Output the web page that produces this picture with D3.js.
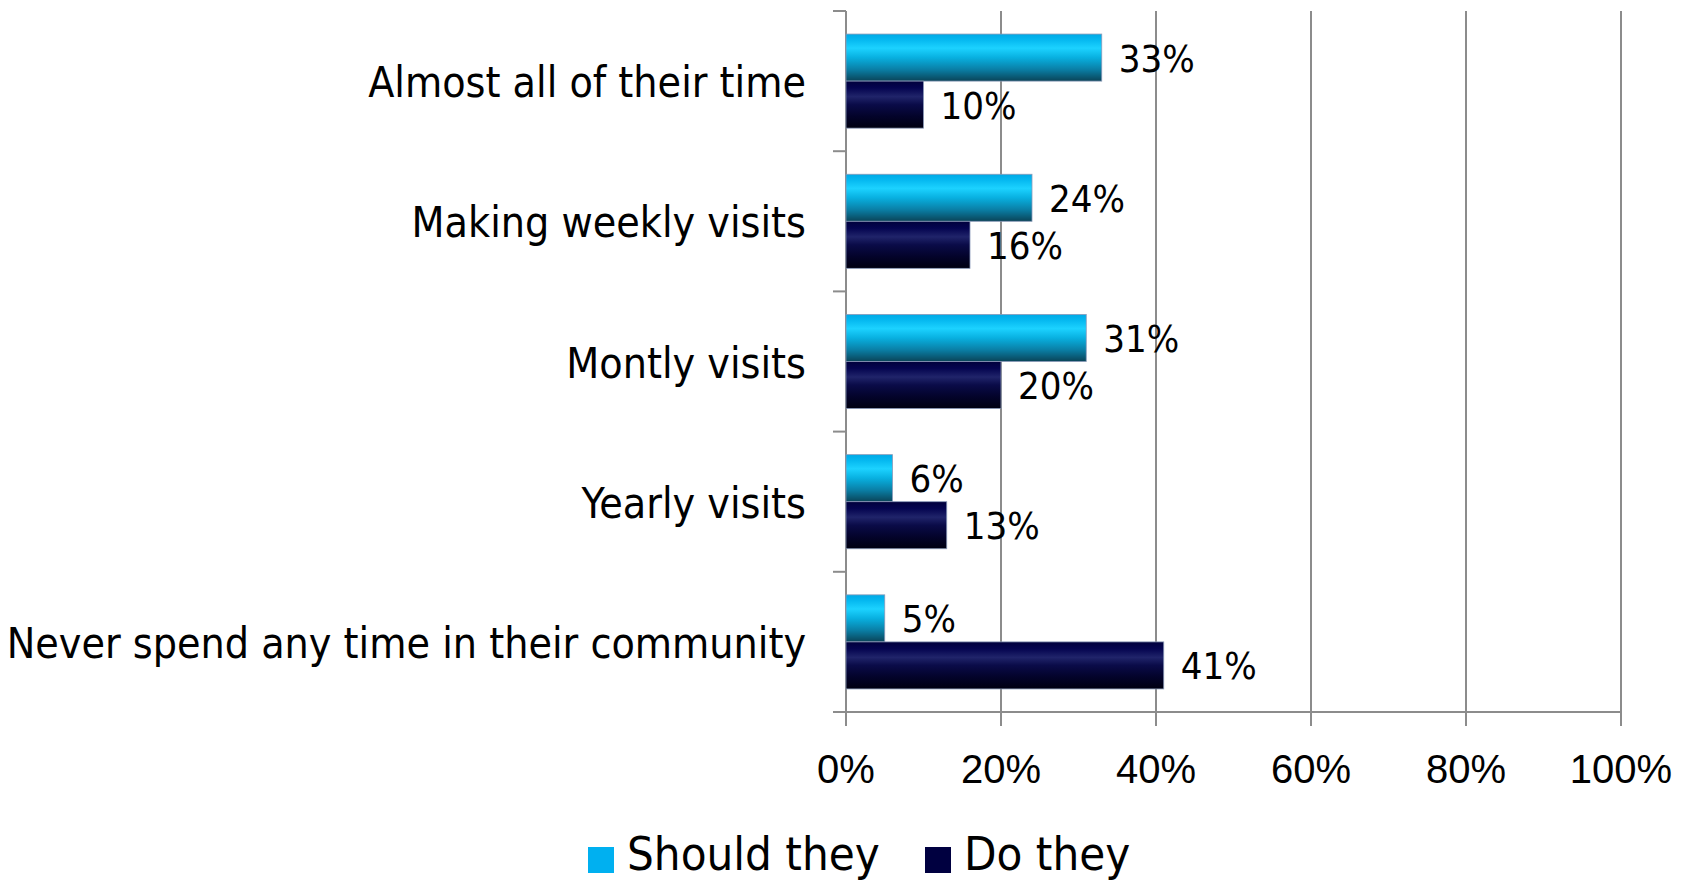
<!DOCTYPE html>
<html><head><meta charset="utf-8">
<script src="https://cdn.jsdelivr.net/npm/d3@7"></script>
<style>
html,body{margin:0;padding:0;background:#fff;}
svg{display:block;}
</style>
</head><body>
<svg id="chart" width="1690" height="882"></svg>
<script>
const categories = ["Almost all of their time","Making weekly visits","Montly visits","Yearly visits","Never spend any time in their community"];
const seriesNames = ["Should they","Do they"];
const shouldThey = [33,24,31,6,5];
const doThey = [10,16,20,13,41];
const xTicks = [0,20,40,60,80,100];

const svg = d3.select("#chart");
const pLeft = 846, pRight = 1621, pTop = 11, pBottom = 712;
const x = d3.scaleLinear().domain([0,100]).range([pLeft,pRight]);
const y = d3.scaleBand().domain(categories).range([pTop,pBottom]).paddingInner(0).paddingOuter(0);
const inner = d3.scaleBand().domain(seriesNames).range([0,y.bandwidth()]).paddingOuter(0.49).paddingInner(0);

const catFont = "'DejaVu Sans Condensed', 'DejaVu Sans', sans-serif";
const defs = svg.append("defs");
function grad(id, stops){
  const g = defs.append("linearGradient").attr("id",id).attr("x1",0).attr("y1",0).attr("x2",0).attr("y2",1);
  stops.forEach(s=>g.append("stop").attr("offset",s[0]).attr("stop-color",s[1]));
}
grad("gShould",[[0,"#00a9e6"],[0.12,"#05b8f0"],[0.3,"#1cd2ff"],[0.5,"#08b0e0"],[0.75,"#0a7fa6"],[1,"#0a4458"]]);
grad("gDo",[[0,"#00003c"],[0.15,"#050550"],[0.33,"#20246a"],[0.5,"#0a0b48"],[0.75,"#03032a"],[1,"#000010"]]);

// gridlines
svg.append("g").selectAll("line").data(xTicks.slice(1)).join("line")
  .attr("x1",d=>x(d)).attr("x2",d=>x(d)).attr("y1",pTop).attr("y2",pBottom)
  .attr("stroke","#8c8c8c").attr("stroke-width",2);

// y axis
const yAxisG = svg.append("g");
yAxisG.append("line").attr("x1",pLeft).attr("x2",pLeft).attr("y1",pTop).attr("y2",pBottom).attr("stroke","#8c8c8c").attr("stroke-width",2);
yAxisG.selectAll(".yt").data(d3.range(6)).join("line")
  .attr("x1",pLeft-13).attr("x2",pLeft).attr("y1",i=>pTop+i*y.bandwidth()).attr("y2",i=>pTop+i*y.bandwidth())
  .attr("stroke","#8c8c8c").attr("stroke-width",2);

// x axis
const xAxisG = svg.append("g");
xAxisG.append("line").attr("x1",pLeft-13).attr("x2",pRight).attr("y1",pBottom).attr("y2",pBottom).attr("stroke","#8c8c8c").attr("stroke-width",2);
xAxisG.selectAll(".xt").data(xTicks).join("line")
  .attr("x1",d=>x(d)).attr("x2",d=>x(d)).attr("y1",pBottom).attr("y2",pBottom+14)
  .attr("stroke","#8c8c8c").attr("stroke-width",2);
xAxisG.selectAll("text").data(xTicks).join("text")
  .attr("x",d=>x(d)).attr("y",783).attr("text-anchor","middle")
  .attr("font-family","'Liberation Sans', Arial, sans-serif").attr("font-size",40).attr("fill","#000")
  .text(d=>d+"%");

// category labels
svg.append("g").selectAll("text").data(categories).join("text")
  .attr("x",806).attr("y",d=>y(d)+y.bandwidth()/2+16).attr("text-anchor","end")
  .attr("font-family",catFont).attr("font-size",42.5).attr("fill","#000")
  .text(d=>d);

// bars
const data = [];
categories.forEach((c,i)=>{
  data.push({cat:c, s:"Should they", v:shouldThey[i], fill:"url(#gShould)"});
  data.push({cat:c, s:"Do they", v:doThey[i], fill:"url(#gDo)"});
});
svg.append("g").selectAll("rect").data(data).join("rect")
  .attr("x",x(0)).attr("y",d=>y(d.cat)+inner(d.s)).attr("width",d=>x(d.v)-x(0)).attr("height",inner.bandwidth())
  .attr("fill",d=>d.fill).attr("stroke","#8a9ab8").attr("stroke-width",0.8);

// value labels
svg.append("g").selectAll("text").data(data).join("text")
  .attr("x",d=>x(d.v)+17).attr("y",d=>y(d.cat)+inner(d.s)+inner.bandwidth()/2+14)
  .attr("font-family",catFont).attr("font-size",38).attr("fill","#000")
  .text(d=>d.v+"%");

// legend
const lg = svg.append("g");
const legendItems = [{n:"Should they",c:"#00b0f0",x:588},{n:"Do they",c:"#000040",x:925}];
legendItems.forEach(it=>{
  lg.append("rect").attr("x",it.x).attr("y",847).attr("width",26).attr("height",26).attr("fill",it.c);
  lg.append("text").attr("x",it.x+39).attr("y",870).attr("font-family",catFont).attr("font-size",47).attr("fill","#000").text(it.n);
});
</script>
</body></html>
